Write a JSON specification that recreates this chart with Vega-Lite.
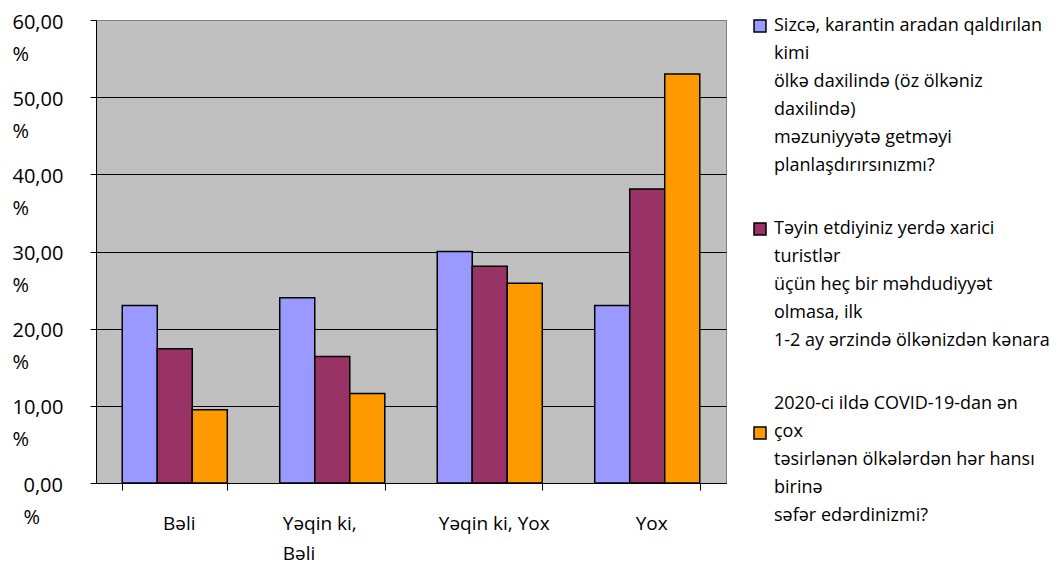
{
  "$schema": "https://vega.github.io/schema/vega-lite/v6.json",
  "description": "Grouped bar chart of survey answers (percent) for three travel questions.",
  "width": 630,
  "height": 463,
  "autosize": {"type": "none"},
  "padding": {"left": 96, "top": 20, "right": 333, "bottom": 79},
  "background": "white",
  "data": {
    "values": [
      {"answer": "Bəli", "question": "Sizcə, karantin aradan qaldırılan\nkimi\nölkə daxilində (öz ölkəniz\ndaxilində)\nməzuniyyətə getməyi\nplanlaşdırırsınızmı?", "pct": 23.0},
      {"answer": "Bəli", "question": "Təyin etdiyiniz yerdə xarici\nturistlər\nüçün heç bir məhdudiyyət\nolmasa, ilk\n1-2 ay ərzində ölkənizdən kənara", "pct": 17.4},
      {"answer": "Bəli", "question": "2020-ci ildə COVID-19-dan ən\nçox\ntəsirlənən ölkələrdən hər hansı\nbirinə\nsəfər edərdinizmi?", "pct": 9.5},
      {"answer": "Yəqin ki, Bəli", "question": "Sizcə, karantin aradan qaldırılan\nkimi\nölkə daxilində (öz ölkəniz\ndaxilində)\nməzuniyyətə getməyi\nplanlaşdırırsınızmı?", "pct": 24.0},
      {"answer": "Yəqin ki, Bəli", "question": "Təyin etdiyiniz yerdə xarici\nturistlər\nüçün heç bir məhdudiyyət\nolmasa, ilk\n1-2 ay ərzində ölkənizdən kənara", "pct": 16.4},
      {"answer": "Yəqin ki, Bəli", "question": "2020-ci ildə COVID-19-dan ən\nçox\ntəsirlənən ölkələrdən hər hansı\nbirinə\nsəfər edərdinizmi?", "pct": 11.6},
      {"answer": "Yəqin ki, Yox", "question": "Sizcə, karantin aradan qaldırılan\nkimi\nölkə daxilində (öz ölkəniz\ndaxilində)\nməzuniyyətə getməyi\nplanlaşdırırsınızmı?", "pct": 30.0},
      {"answer": "Yəqin ki, Yox", "question": "Təyin etdiyiniz yerdə xarici\nturistlər\nüçün heç bir məhdudiyyət\nolmasa, ilk\n1-2 ay ərzində ölkənizdən kənara", "pct": 28.1},
      {"answer": "Yəqin ki, Yox", "question": "2020-ci ildə COVID-19-dan ən\nçox\ntəsirlənən ölkələrdən hər hansı\nbirinə\nsəfər edərdinizmi?", "pct": 25.9},
      {"answer": "Yox", "question": "Sizcə, karantin aradan qaldırılan\nkimi\nölkə daxilində (öz ölkəniz\ndaxilində)\nməzuniyyətə getməyi\nplanlaşdırırsınızmı?", "pct": 23.0},
      {"answer": "Yox", "question": "Təyin etdiyiniz yerdə xarici\nturistlər\nüçün heç bir məhdudiyyət\nolmasa, ilk\n1-2 ay ərzində ölkənizdən kənara", "pct": 38.1},
      {"answer": "Yox", "question": "2020-ci ildə COVID-19-dan ən\nçox\ntəsirlənən ölkələrdən hər hansı\nbirinə\nsəfər edərdinizmi?", "pct": 53.0}
    ]
  },
  "mark": {"type": "bar", "stroke": "black", "strokeWidth": 1.5},
  "encoding": {
    "x": {
      "field": "answer",
      "type": "nominal",
      "sort": ["Bəli", "Yəqin ki, Bəli", "Yəqin ki, Yox", "Yox"],
      "title": null,
      "scale": {"paddingInner": 0.333, "paddingOuter": 0.1667},
      "axis": {
        "labelAngle": 0,
        "domainColor": "black",
        "tickColor": "black",
        "tickSize": 7,
        "tickBand": "extent",
        "labelFont": "Open Sans",
        "labelFontSize": 19,
        "labelColor": "black",
        "labelBaseline": "alphabetic",
        "labelPadding": 39,
        "labelLineHeight": 30,
        "labelLimit": 1000,
        "labelExpr": "datum.value == 'Yəqin ki, Bəli' ? ['Yəqin ki,', 'Bəli'] : datum.label",
        "labelAlign": {"condition": {"test": "datum.value == 'Yəqin ki, Bəli'", "value": "left"}, "value": "center"},
        "labelOffset": {"condition": {"test": "datum.value == 'Yəqin ki, Bəli'", "value": -50}, "value": 4}
      }
    },
    "xOffset": {
      "field": "question",
      "type": "nominal",
      "sort": [
        "Sizcə, karantin aradan qaldırılan\nkimi\nölkə daxilində (öz ölkəniz\ndaxilində)\nməzuniyyətə getməyi\nplanlaşdırırsınızmı?",
        "Təyin etdiyiniz yerdə xarici\nturistlər\nüçün heç bir məhdudiyyət\nolmasa, ilk\n1-2 ay ərzində ölkənizdən kənara",
        "2020-ci ildə COVID-19-dan ən\nçox\ntəsirlənən ölkələrdən hər hansı\nbirinə\nsəfər edərdinizmi?"
      ],
      "scale": {"paddingInner": 0, "paddingOuter": 0}
    },
    "y": {
      "field": "pct",
      "type": "quantitative",
      "title": null,
      "scale": {"domain": [0, 60], "nice": false},
      "axis": {
        "values": [0, 10, 20, 30, 40, 50, 60],
        "labelExpr": "[replace(format(datum.value, '.2f'), '.', ','), '%']",
        "labelFont": "Open Sans",
        "labelFontSize": 20,
        "labelColor": "black",
        "labelAlign": "left",
        "labelBaseline": "alphabetic",
        "labelOffset": 8,
        "labelLineHeight": 32,
        "labelPadding": {"condition": {"test": "datum.value == 0", "value": 67}, "value": 78},
        "labelOverlap": false,
        "labelFlush": false,
        "tickSize": 6,
        "tickColor": "black",
        "domainColor": "black",
        "grid": true,
        "gridColor": {"condition": {"test": "datum.value == 60", "value": "#808080"}, "value": "black"},
        "gridOpacity": 1,
        "gridWidth": 1
      }
    },
    "color": {
      "field": "question",
      "type": "nominal",
      "scale": {
        "domain": [
          "Sizcə, karantin aradan qaldırılan\nkimi\nölkə daxilində (öz ölkəniz\ndaxilində)\nməzuniyyətə getməyi\nplanlaşdırırsınızmı?",
          "Təyin etdiyiniz yerdə xarici\nturistlər\nüçün heç bir məhdudiyyət\nolmasa, ilk\n1-2 ay ərzində ölkənizdən kənara",
          "2020-ci ildə COVID-19-dan ən\nçox\ntəsirlənən ölkələrdən hər hansı\nbirinə\nsəfər edərdinizmi?"
        ],
        "range": ["#9999ff", "#993366", "#ff9900"]
      },
      "legend": {
        "title": null,
        "orient": "none",
        "legendX": 655,
        "legendY": -3,
        "direction": "vertical",
        "padding": 0,
        "symbolType": "square",
        "symbolSize": 144,
        "symbolStrokeColor": "black",
        "symbolStrokeWidth": 1.5,
        "symbolOpacity": 1,
        "labelFont": "Open Sans",
        "labelFontSize": 18,
        "labelColor": "black",
        "labelLimit": 1000,
        "labelBaseline": "middle",
        "labelOffset": 5,
        "rowPadding": 45,
        "labelExpr": "split(datum.label, '\\n')",
        "encoding": {
          "labels": {
            "lineHeight": {"value": 28},
            "dy": {"condition": {"test": "datum.index == 2", "value": -29}, "value": 0}
          }
        }
      }
    }
  },
  "config": {
    "font": "Open Sans",
    "view": {"fill": "#c0c0c0", "stroke": "#808080", "strokeWidth": 1}
  }
}
